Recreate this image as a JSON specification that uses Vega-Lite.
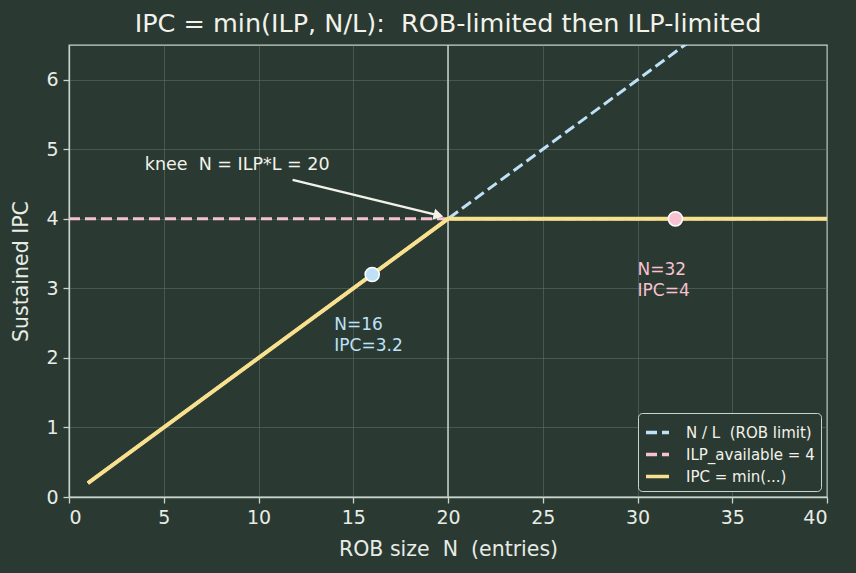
{
  "$schema": "https://vega.github.io/schema/vega-lite/v6.json",
  "width": 758,
  "height": 452,
  "autosize": {"type": "none"},
  "padding": {"left": 69, "top": 45, "right": 29, "bottom": 76},
  "background": "#2a3a32",
  "title": {"text": "IPC = min(ILP, N/L):\u00a0\u00a0ROB-limited then ILP-limited", "color": "#f2f2ea", "fontSize": 25.5, "font": "DejaVu Sans", "fontWeight": "normal", "offset": 7},
  "config": {
    "font": "DejaVu Sans",
    "view": {"stroke": "#c8d4cc", "strokeWidth": 1.3},
    "axis": {"domainColor": "#c8d4cc", "tickColor": "#c8d4cc", "labelColor": "#e8ece6", "titleColor": "#e8ece6", "labelFontSize": 19, "titleFontSize": 20.5, "titleFontWeight": "normal", "gridColor": "#6a7f70", "gridOpacity": 0.45, "gridWidth": 1, "tickSize": 6, "labelPadding": 5, "domainWidth": 1.3, "tickWidth": 1.3},
    "axisX": {"titlePadding": 12},
    "axisY": {"titlePadding": 14}
  },
  "datasets": {
    "lines": [
      {"series": "N / L\u00a0\u00a0(ROB limit)", "N": 1, "ipc": 0.2},
      {"series": "N / L\u00a0\u00a0(ROB limit)", "N": 40, "ipc": 8},
      {"series": "ILP_available = 4", "N": 0, "ipc": 4},
      {"series": "ILP_available = 4", "N": 40, "ipc": 4},
      {"series": "IPC = min(...)", "N": 1, "ipc": 0.2},
      {"series": "IPC = min(...)", "N": 20, "ipc": 4},
      {"series": "IPC = min(...)", "N": 40, "ipc": 4}
    ]
  },
  "layer": [
    {
      "data": {"values": [{"N": 20}]},
      "mark": {"type": "rule", "color": "#c0ccc4", "strokeWidth": 1.6},
      "encoding": {"x": {"field": "N", "type": "quantitative"}}
    },
    {
      "data": {"name": "lines"},
      "mark": {"type": "line", "clip": true, "strokeWidth": 3},
      "encoding": {
        "x": {"field": "N", "type": "quantitative", "scale": {"domain": [0, 40], "nice": false}, "axis": {"values": [0,5,10,15,20,25,30,35,40], "title": "ROB size\u00a0\u00a0N\u00a0\u00a0(entries)", "grid": true}},
        "y": {"field": "ipc", "type": "quantitative", "scale": {"domain": [0, 6.5], "nice": false}, "axis": {"values": [0,1,2,3,4,5,6], "format": "d", "title": "Sustained IPC", "grid": true}},
        "color": {"field": "series", "type": "nominal", "sort": ["N / L\u00a0\u00a0(ROB limit)", "ILP_available = 4", "IPC = min(...)"], "scale": {"domain": ["N / L\u00a0\u00a0(ROB limit)", "ILP_available = 4", "IPC = min(...)"], "range": ["#bfe1f8", "#f8c1d2", "#f8e08e"]}, "legend": {"title": null, "orient": "bottom-right", "offset": 6, "fillColor": "#2a3a32", "strokeColor": "#c8d4cc", "padding": 6, "cornerRadius": 4, "labelColor": "#f2f2ea", "labelFontSize": 15, "labelOffset": 15, "symbolType": "stroke", "symbolSize": 529, "symbolStrokeWidth": 3.5, "rowPadding": 0}},
        "strokeDash": {"field": "series", "type": "nominal", "sort": ["N / L\u00a0\u00a0(ROB limit)", "ILP_available = 4", "IPC = min(...)"], "scale": {"domain": ["N / L\u00a0\u00a0(ROB limit)", "ILP_available = 4", "IPC = min(...)"], "range": [[11, 5], [11, 5], [1, 0]]}, "legend": {"title": null}}
      }
    },
    {
      "data": {"name": "lines"},
      "transform": [{"filter": "datum.series === 'IPC = min(...)'"}],
      "mark": {"type": "line", "clip": true, "strokeWidth": 4, "color": "#f8e08e"},
      "encoding": {
        "x": {"field": "N", "type": "quantitative"},
        "y": {"field": "ipc", "type": "quantitative"}
      }
    },
    {
      "data": {"values": [{"N": 11.8, "ipc": 4.56, "N2": 19.5, "ipc2": 4.05}]},
      "mark": {"type": "rule", "color": "#f2f2ea", "strokeWidth": 2.5},
      "encoding": {"x": {"field": "N", "type": "quantitative"}, "y": {"field": "ipc", "type": "quantitative"}, "x2": {"field": "N2"}, "y2": {"field": "ipc2"}}
    },
    {
      "data": {"values": [{"N": 19.5, "ipc": 4.05}]},
      "mark": {"type": "point", "shape": "triangle-right", "filled": true, "color": "#f2f2ea", "size": 130, "angle": 14, "opacity": 1},
      "encoding": {"x": {"field": "N", "type": "quantitative"}, "y": {"field": "ipc", "type": "quantitative"}}
    },
    {
      "data": {"values": [{"N": 16, "ipc": 3.2}]},
      "mark": {"type": "point", "filled": true, "color": "#bfe1f8", "stroke": "#ffffff", "strokeWidth": 1.5, "size": 200, "opacity": 1},
      "encoding": {"x": {"field": "N", "type": "quantitative"}, "y": {"field": "ipc", "type": "quantitative"}}
    },
    {
      "data": {"values": [{"N": 32, "ipc": 4}]},
      "mark": {"type": "point", "filled": true, "color": "#f8c1d2", "stroke": "#ffffff", "strokeWidth": 1.5, "size": 200, "opacity": 1},
      "encoding": {"x": {"field": "N", "type": "quantitative"}, "y": {"field": "ipc", "type": "quantitative"}}
    },
    {
      "data": {"values": [{"N": 14, "ipc": 2.34, "label": "N=16\nIPC=3.2"}]},
      "mark": {"type": "text", "align": "left", "baseline": "bottom", "color": "#bfe1f8", "fontSize": 17, "lineBreak": "\n", "lineHeight": 21},
      "encoding": {"x": {"field": "N", "type": "quantitative"}, "y": {"field": "ipc", "type": "quantitative"}, "text": {"field": "label"}}
    },
    {
      "data": {"values": [{"N": 30, "ipc": 3.13, "label": "N=32\nIPC=4"}]},
      "mark": {"type": "text", "align": "left", "baseline": "bottom", "color": "#f8c1d2", "fontSize": 17, "lineBreak": "\n", "lineHeight": 21},
      "encoding": {"x": {"field": "N", "type": "quantitative"}, "y": {"field": "ipc", "type": "quantitative"}, "text": {"field": "label"}}
    },
    {
      "data": {"values": [{"N": 4, "ipc": 4.77, "label": "knee\u00a0\u00a0N = ILP*L = 20"}]},
      "mark": {"type": "text", "align": "left", "baseline": "middle", "color": "#f2f2ea", "fontSize": 17.5},
      "encoding": {"x": {"field": "N", "type": "quantitative"}, "y": {"field": "ipc", "type": "quantitative"}, "text": {"field": "label"}}
    }
  ]
}
